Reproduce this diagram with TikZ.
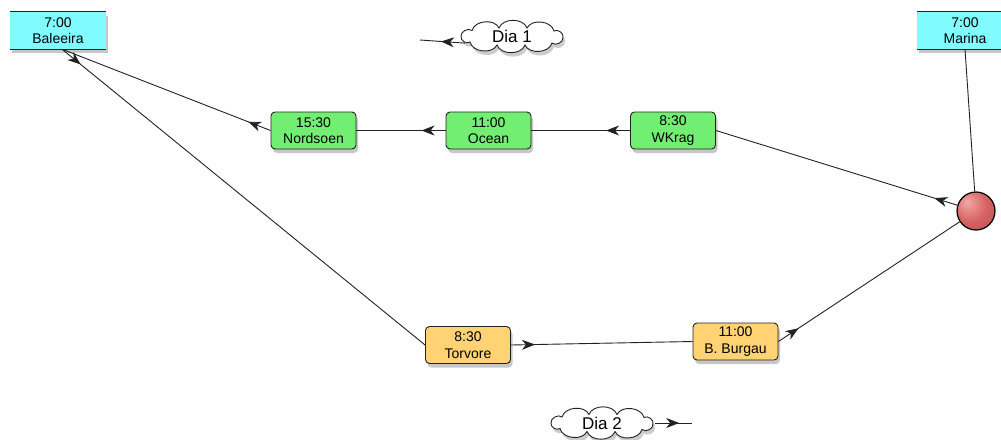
\documentclass[tikz,border=0pt]{standalone}
\usepackage{fontspec}
\setmainfont{Liberation Sans}
\usetikzlibrary{shapes.geometric,shadows,arrows.meta,decorations.markings,calc}
\definecolor{cyanbox}{HTML}{80FCFF}
\definecolor{greenbox}{HTML}{72EE72}
\definecolor{orangebox}{HTML}{FFD273}
\definecolor{lineclr}{HTML}{222222}
\definecolor{ballhi}{HTML}{F4A8A8}
\definecolor{ballmid}{HTML}{D66262}
\definecolor{balllo}{HTML}{B04444}
\pgfdeclareradialshading{redball}{\pgfpoint{-12bp}{12bp}}{color(0bp)=(ballhi); color(22bp)=(ballmid); color(55bp)=(balllo); color(70bp)=(balllo)}
\begin{document}
\begin{tikzpicture}[x=1pt,y=-1pt,
  lbl/.style={font=\fontsize{14}{16.5}\selectfont, align=center, inner sep=0pt},
  shad/.style={drop shadow={shadow xshift=2pt, shadow yshift=-4pt, opacity=0.22, fill=black}},
  stopbox/.style={lbl, rectangle, rounded corners=4pt, draw=lineclr, line width=0.9pt,
    minimum width=85pt, minimum height=37pt, shad},
  greenstop/.style={stopbox, fill=greenbox},
  orangestop/.style={stopbox, fill=orangebox},
  portbox/.style={lbl, rectangle, fill=cyanbox, minimum width=96pt, minimum height=37pt, shad},
  cloudtext/.style={ellipse, inner sep=0pt, minimum width=106pt, minimum height=28pt,
    font=\fontsize{17}{19}\selectfont},
  puff/.style={bend left=70},
  daycloudpic/.pic={
    \fill[black, opacity=0.2, shift={(2,4)}]
      (-51,0) to[puff] (-40,-6) to[puff] (-13,-8.5) to[puff] (15,-8.5) to[puff] (42,-5.5)
      to[puff] (51,1) to[puff] (40,6.5) to[puff] (13,8.5) to[puff] (-15,8.5)
      to[puff] (-42,5.5) to[puff] (-51,0) -- cycle;
    \draw[draw=lineclr, line width=0.9pt, fill=white]
      (-51,0) to[puff] (-40,-6) to[puff] (-13,-8.5) to[puff] (15,-8.5) to[puff] (42,-5.5)
      to[puff] (51,1) to[puff] (40,6.5) to[puff] (13,8.5) to[puff] (-15,8.5)
      to[puff] (-42,5.5) to[puff] (-51,0) -- cycle;
  },
  route/.style={draw=lineclr, line width=0.9pt, postaction={decorate},
    decoration={markings, mark=at position 24pt with {\arrow{Stealth[length=13pt,width=10pt,inset=4pt]}}}},
  plainline/.style={draw=lineclr, line width=0.9pt}
]
\useasboundingbox (0,0) rectangle (1001,439);

% ports
\node[portbox] (Baleeira) at (58,30.5) {7:00\\Baleeira};
\node[portbox] (Marina) at (965,30.5) {7:00\\Marina};
\draw[lineclr, line width=0.8pt] (Baleeira.north west) -- (Baleeira.north east);
\draw[lineclr, line width=0.8pt] (Baleeira.south west) -- (Baleeira.south east);
\draw[lineclr, line width=0.8pt] (Marina.north west) -- (Marina.north east);
\draw[lineclr, line width=0.8pt] (Marina.south west) -- (Marina.south east);

% day 1 stops
\node[greenstop] (Nordsoen) at (313.5,130.5) {15:30\\Nordsoen};
\node[greenstop] (Ocean) at (488.5,130.5) {11:00\\Ocean};
\node[greenstop] (WKrag) at (673,130.5) {8:30\\WKrag};

% day 2 stops
\node[orangestop] (Torvore) at (468,345) {8:30\\Torvore};
\node[orangestop] (Burgau) at (735.5,341.5) {11:00\\B. Burgau};

% hub ball
\node[circle, minimum size=38pt, inner sep=0pt, draw=black, line width=1.2pt,
  shading=redball] (ball) at (976,211) {};

% clouds
\coordinate (c1) at (512,36.5);
\coordinate (c2) at (602,423);
\pic at (c1) {daycloudpic};
\pic at (c2) {daycloudpic};
\node[cloudtext] (dia1) at (c1) {Dia 1};
\node[cloudtext] (dia2) at (c2) {Dia 2};
\coordinate (d1end) at (420,40);
\coordinate (d2end) at (692,423);

% connectors
\coordinate (balout) at ($(Baleeira.south)+(4,0)$);
\draw[plainline] (Marina.south) -- (ball);
\draw[route] (ball) -- (WKrag.east);
\draw[route] (WKrag.west) -- (Ocean.east);
\draw[route] (Ocean.west) -- (Nordsoen.east);
\draw[route] (Nordsoen.west) -- (balout);
\draw[route] (balout) -- (Torvore.west);
\draw[route] (Torvore.east) -- (Burgau.west);
\draw[route] (Burgau.east) -- (ball);
\draw[route] (dia1.188) -- (d1end);
\draw[route] (dia2.east) -- (d2end);
\end{tikzpicture}
\end{document}
